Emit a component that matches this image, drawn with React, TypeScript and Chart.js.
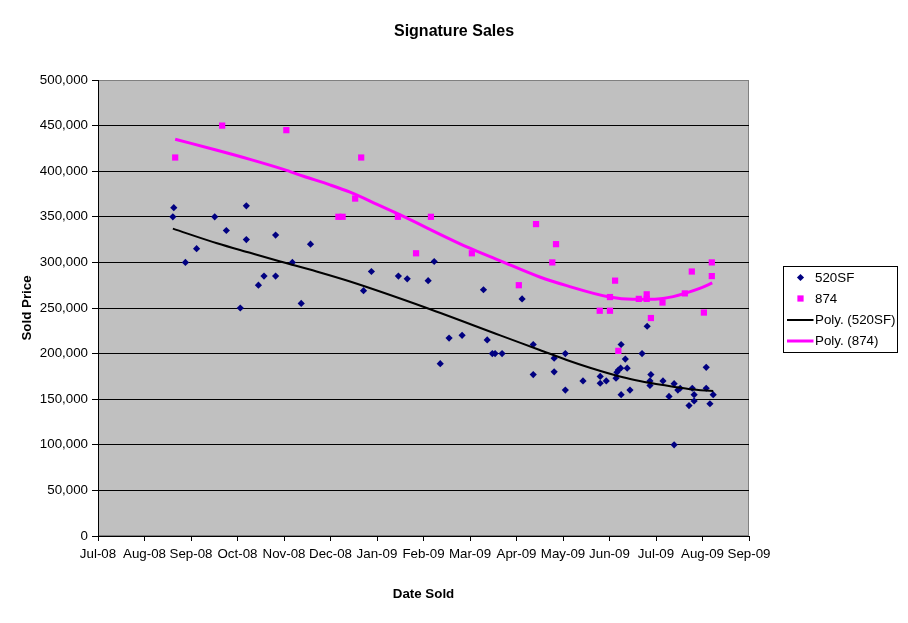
import { useEffect, useRef } from "react";
import { Chart, registerables } from "chart.js";

Chart.register(...registerables);

// ---------- data (x = months since Jul-08) ----------
const monthLabels = [
  "Jul-08", "Aug-08", "Sep-08", "Oct-08", "Nov-08", "Dec-08", "Jan-09", "Feb-09",
  "Mar-09", "Apr-09", "May-09", "Jun-09", "Jul-09", "Aug-09", "Sep-09",
];

const sf520Month = [
  1.61, 1.63, 1.88, 2.12, 2.51, 2.76, 3.06, 3.19, 3.19, 3.45, 3.57, 3.82, 3.82, 4.18, 4.37, 4.57,
  5.71, 5.88, 6.46, 6.65, 7.1, 7.23, 7.36, 7.55, 7.83, 8.29, 8.37, 8.48, 8.54, 8.69,
  9.12, 9.36, 9.36, 9.81, 9.81, 10.05, 10.05, 10.43, 10.8, 10.8, 10.93,
  11.14, 11.16, 11.19, 11.24, 11.25, 11.34, 11.38, 11.25, 11.44, 11.7, 11.81, 11.89, 11.87, 11.87,
  12.15, 12.28, 12.39, 12.39, 12.47, 12.52, 12.71, 12.78, 12.82, 12.82, 13.08, 13.08, 13.16, 13.23,
];
const sf520Price = [
  350000, 360000, 300000, 315000, 350000, 335000, 250000, 362000, 325000, 275000, 285000, 330000, 285000, 300000, 255000, 320000,
  269000, 290000, 285000, 282000, 280000, 301000, 189000, 217000, 220000, 270000, 215000, 200000, 200000, 200000,
  260000, 210000, 177000, 195000, 180000, 200000, 160000, 170000, 175000, 167500, 170000,
  173000, 179500, 182000, 184000, 210000, 194000, 184000, 155000, 160000, 200000, 230000, 177000, 170000, 165000,
  170000, 153000, 167000, 100000, 160000, 162000, 143000, 162000, 155000, 148000, 185000, 162000, 145000, 155000,
];

const u874Month = [
  1.66, 2.67, 4.05, 5.17, 5.26, 5.53, 5.66, 6.45, 6.84, 7.16, 8.04, 9.05, 9.42, 9.77, 9.85,
  10.79, 11.01, 11.01, 11.12, 11.19, 11.63, 11.8, 11.8, 11.89, 12.14, 12.62, 12.77, 13.03, 13.2, 13.2,
];
const u874Price = [
  415000, 450000, 445000, 350000, 350000, 370000, 415000, 350000, 310000, 350000, 310000, 275000, 342000, 300000, 320000,
  247000, 247000, 262000, 280000, 203000, 260000, 265000, 260000, 239000, 256000, 266000, 290000, 245000, 300000, 285000,
];

// polynomial trend lines
const trend520Month = [1.61, 2.56, 3.27, 3.92, 4.7, 5.42, 7.07, 8.65, 9.5, 10.08, 10.58, 11.29, 11.65, 12.15, 12.73, 13.23];
const trend520Price = [337000, 321000, 310500, 301000, 290000, 279000, 250000, 220000, 204000, 193000, 184500, 174000, 170000, 165500, 161000, 159000];

const trend874Month = [1.66, 2.56, 3.27, 3.99, 4.42, 4.99, 5.42, 5.99, 6.5, 7.93, 8.64, 9.5, 10.08, 11.0, 11.5, 11.8, 12.15, 12.37, 12.62, 12.94, 13.21];
const trend874Price = [435000, 423000, 413000, 402000, 394500, 385000, 377000, 364000, 352000, 317000, 302000, 284000, 274500, 262000, 259500, 259500, 260500, 262500, 266000, 271500, 277500];

const seriesNames = ["520SF", "874", "Poly. (520SF)", "Poly. (874)"];

const FONT = "'Liberation Sans', Arial, sans-serif";

const zip = (xs: number[], ys: number[]) => xs.map((x, i) => ({ x, y: ys[i] }));

const plotBg = {
  id: "plotBg",
  beforeDraw(chart: any) {
    const { ctx, chartArea } = chart;
    const { left, top, right, bottom } = chartArea;
    ctx.save();
    ctx.fillStyle = "#C0C0C0";
    ctx.fillRect(left, top, right - left, bottom - top);
    ctx.strokeStyle = "#808080";
    ctx.lineWidth = 1;
    ctx.strokeRect(left + 0.5, top + 0.5, right - left - 1, bottom - top - 1);
    ctx.restore();
  },
};

const boxLegend = {
  id: "boxLegend",
  afterDraw(chart: any) {
    const { ctx, chartArea } = chart;
    const boxLeft = Math.round(chartArea.right + 34) + 0.5;
    const boxW = 114;
    const boxH = 86;
    const midY = (chartArea.top + chartArea.bottom) / 2 + 1;
    const boxTop = Math.round(midY - boxH / 2) + 0.5;
    const rowH = 21;
    ctx.save();
    ctx.fillStyle = "#FFFFFF";
    ctx.fillRect(boxLeft, boxTop, boxW, boxH);
    ctx.strokeStyle = "#000000";
    ctx.lineWidth = 1;
    ctx.strokeRect(boxLeft, boxTop, boxW, boxH);
    const n = chart.data.datasets.length;
    chart.data.datasets.forEach((ds: any, i: number) => {
      const cy = midY + (i - (n - 1) / 2) * rowH;
      const mx = boxLeft + 17;
      if (ds.showLine) {
        ctx.strokeStyle = ds.borderColor;
        ctx.lineWidth = ds.borderWidth;
        ctx.beginPath();
        ctx.moveTo(boxLeft + 3.5, Math.round(cy));
        ctx.lineTo(boxLeft + 30, Math.round(cy));
        ctx.stroke();
      } else if (ds.pointStyle === "rectRot") {
        const r = ds.pointRadius;
        ctx.fillStyle = ds.backgroundColor;
        ctx.beginPath();
        ctx.moveTo(mx - r, cy);
        ctx.lineTo(mx, cy - r);
        ctx.lineTo(mx + r, cy);
        ctx.lineTo(mx, cy + r);
        ctx.closePath();
        ctx.fill();
      } else {
        const s = ds.pointRadius * Math.SQRT1_2;
        ctx.fillStyle = ds.backgroundColor;
        ctx.fillRect(mx - s, cy - s, 2 * s, 2 * s);
      }
      ctx.fillStyle = "#000000";
      ctx.font = `13.33px ${FONT}`;
      ctx.textBaseline = "middle";
      ctx.textAlign = "left";
      ctx.fillText(ds.label, boxLeft + 31.5, cy + 0.5);
    });
    ctx.restore();
  },
};

export default function App() {
  const ref = useRef<HTMLCanvasElement | null>(null);

  useEffect(() => {
    if (!ref.current) return;
    Chart.defaults.font.family = FONT;
    Chart.defaults.color = "#000000";
    const chart = new Chart(ref.current, {
      type: "scatter",
      data: {
        datasets: [
          {
            label: seriesNames[0],
            data: zip(sf520Month, sf520Price),
            pointStyle: "rectRot",
            pointRadius: 3.6,
            pointHoverRadius: 3.6,
            backgroundColor: "#000080",
            borderColor: "#000080",
            borderWidth: 0,
            showLine: false,
            order: 2,
          },
          {
            label: seriesNames[1],
            data: zip(u874Month, u874Price),
            pointStyle: "rect",
            pointRadius: 4.4,
            pointHoverRadius: 4.4,
            backgroundColor: "#FF00FF",
            borderColor: "#FF00FF",
            borderWidth: 0,
            showLine: false,
            order: 2,
          },
          {
            label: seriesNames[2],
            data: zip(trend520Month, trend520Price),
            showLine: true,
            borderColor: "#000000",
            backgroundColor: "#000000",
            borderWidth: 2,
            pointRadius: 0,
            pointHoverRadius: 0,
            cubicInterpolationMode: "monotone",
            fill: false,
            order: 1,
          },
          {
            label: seriesNames[3],
            data: zip(trend874Month, trend874Price),
            showLine: true,
            borderColor: "#FF00FF",
            backgroundColor: "#FF00FF",
            borderWidth: 3,
            pointRadius: 0,
            pointHoverRadius: 0,
            cubicInterpolationMode: "monotone",
            fill: false,
            order: 1,
          },
        ],
      },
      options: {
        animation: false,
        responsive: false,
        devicePixelRatio: 1,
        events: [],
        layout: { padding: { top: 0, right: 0, bottom: 0, left: 0 } },
        plugins: {
          legend: { display: false },
          tooltip: { enabled: false },
          title: {
            display: true,
            text: "Signature Sales",
            color: "#000000",
            font: { family: FONT, size: 16, weight: "bold", lineHeight: 1.2 },
            padding: { top: 22, bottom: 38.8 },
          },
        },
        scales: {
          x: {
            type: "linear",
            min: 0,
            max: monthLabels.length - 1,
            afterFit: (scale: any) => {
              scale.height = 87;
            },
            ticks: {
              stepSize: 1,
              autoSkip: false,
              maxRotation: 0,
              padding: 5,
              color: "#000000",
              font: { family: FONT, size: 13.33 },
              callback: (v: any) => monthLabels[Math.round(Number(v))] ?? "",
            },
            grid: {
              drawOnChartArea: false,
              drawTicks: true,
              tickLength: 5,
              tickColor: "#000000",
            },
            border: { display: true, color: "#000000", width: 1 },
            title: {
              display: true,
              text: "Date Sold",
              color: "#000000",
              font: { family: FONT, size: 13.33, weight: "bold", lineHeight: 1.2 },
              padding: { top: 0, bottom: 21 },
            },
          },
          y: {
            type: "linear",
            position: "left",
            min: 0,
            max: 500000,
            afterFit: (scale: any) => {
              scale.width = 98;
            },
            ticks: {
              stepSize: 50000,
              padding: 4,
              color: "#000000",
              font: { family: FONT, size: 13.33 },
              callback: (v: any) => Number(v).toLocaleString("en-US"),
            },
            grid: {
              color: (c: any) => (c.tick && c.tick.value === 500000 ? "#808080" : "#000000"),
              lineWidth: 1,
              drawTicks: true,
              tickLength: 6,
              tickColor: "#000000",
            },
            border: { display: true, color: "#000000", width: 1 },
            title: {
              display: true,
              text: "Sold Price",
              color: "#000000",
              font: { family: FONT, size: 13.33, weight: "bold", lineHeight: 1.2 },
              padding: { top: 19, bottom: 0 },
            },
          },
          legendSpace: {
            type: "linear",
            position: "right",
            display: true,
            afterFit: (scale: any) => {
              scale.width = 159;
            },
            ticks: { display: false },
            grid: { display: false, drawTicks: false },
            border: { display: false },
            title: { display: false },
          },
        },
      },
      plugins: [plotBg, boxLegend],
    } as any);
    return () => chart.destroy();
  }, []);

  return (
    <div style={{ position: "fixed", left: 0, top: 0, width: 908, height: 623, background: "#FFFFFF" }}>
      <canvas ref={ref} width={908} height={623} style={{ display: "block", width: 908, height: 623 }} />
    </div>
  );
}
